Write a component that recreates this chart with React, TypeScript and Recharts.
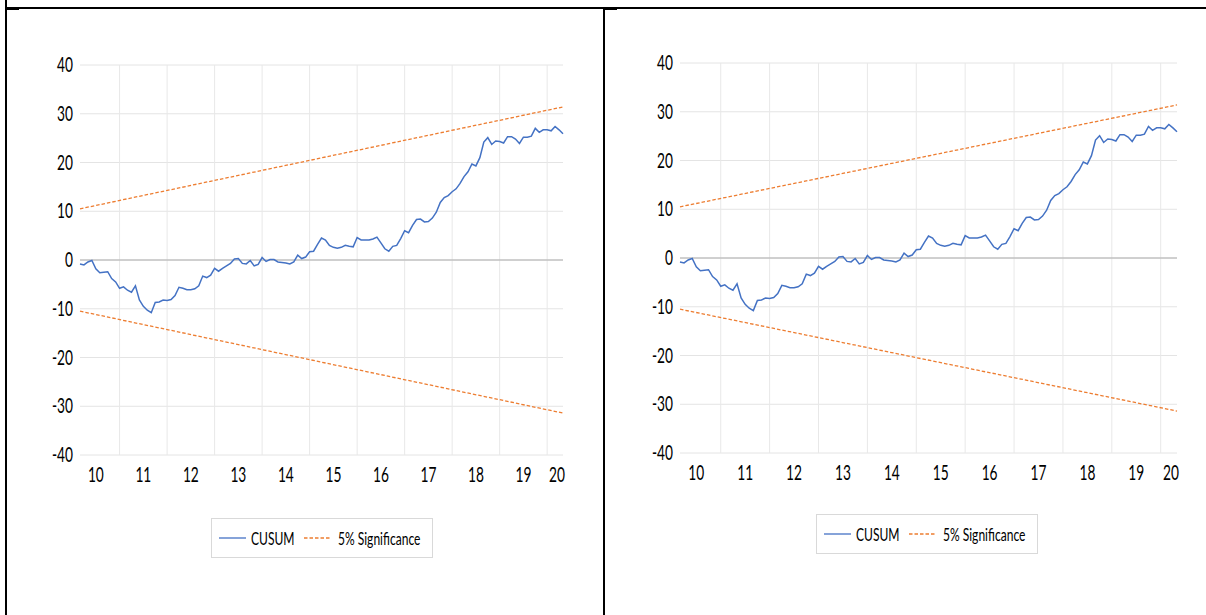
import React from "react";
import {
  LineChart,
  Line,
  XAxis,
  YAxis,
  CartesianGrid,
  ReferenceLine,
  Legend,
} from "recharts";

// CUSUM, one value per month from Mar 2010 (index 0) to May 2020 (index 122)
const cusum = [
  -0.8, -1.0, -0.4, -0.1, -1.8, -2.6, -2.5, -2.4, -3.8, -4.5,
  -5.8, -5.5, -6.2, -6.6, -5.3, -8.2, -9.5, -10.3, -10.8, -8.7,
  -8.6, -8.2, -8.3, -8.1, -7.3, -5.6, -5.8, -6.1, -6.1, -5.9,
  -5.3, -3.3, -3.6, -3.1, -1.7, -2.3, -1.7, -1.2, -0.7, 0.2,
  0.3, -0.7, -0.8, -0.1, -1.2, -0.9, 0.5, -0.3, 0.1, 0.1,
  -0.4, -0.5, -0.6, -0.8, -0.4, 1.0, 0.3, 0.6, 1.7, 1.8,
  3.2, 4.5, 4.1, 3.0, 2.6, 2.4, 2.6, 3.0, 2.8, 2.7,
  4.6, 4.1, 4.1, 4.1, 4.3, 4.7, 3.5, 2.3, 1.8, 2.8,
  3.0, 4.4, 6.0, 5.6, 7.1, 8.3, 8.4, 7.8, 7.9, 8.6,
  9.8, 11.8, 12.8, 13.2, 14.0, 14.6, 15.7, 17.1, 18.1, 19.7,
  19.3, 21.0, 24.2, 25.1, 23.7, 24.4, 24.3, 24.0, 25.3, 25.3,
  24.8, 23.9, 25.2, 25.2, 25.4, 27.0, 26.2, 26.7, 26.7, 26.5,
  27.4, 26.7, 25.9,
];

const yearLabels = ["10", "11", "12", "13", "14", "15", "16", "17", "18", "19", "20"];
const yearLabelAt = [4, 16, 28, 40, 52, 64, 76, 88, 100, 112, 120.5];
const yearStartAt = [10, 22, 34, 46, 58, 70, 82, 94, 106, 118];
const yTicks = [-40, -30, -20, -10, 0, 10, 20, 30, 40];

const bandAt = [0, 122];
const upperBand = [10.5, 31.4];
const lowerBand = [-10.5, -31.4];

const seriesNames = ["CUSUM", "5% Significance"];

const rows = cusum.map((v, i) => ({ i, cusum: v }));
const upperRows = bandAt.map((i, k) => ({ i, v: upperBand[k] }));
const lowerRows = bandAt.map((i, k) => ({ i, v: lowerBand[k] }));

const FONT = "Lato, 'Open Sans', sans-serif";
const SQUEEZE = "scale(0.67,1)";
const BLUE = "#4472C4";
const ORANGE = "#ED7D31";
const DASH = "3.5 2";

function YTick({ x, y, payload }: any) {
  return (
    <g transform={`translate(${x},${y})`}>
      <text
        textAnchor="end"
        dy={7}
        transform={SQUEEZE}
        fontSize={20.5}
        fontFamily={FONT}
        fill="#000"
      >
        {payload.value}
      </text>
    </g>
  );
}

function XTick({ x, y, payload }: any) {
  const label = yearLabels[yearLabelAt.indexOf(payload.value)];
  return (
    <g transform={`translate(${x},${y})`}>
      <text
        textAnchor="middle"
        dy={27.5}
        transform={SQUEEZE}
        fontSize={20.5}
        fontFamily={FONT}
        fill="#000"
      >
        {label}
      </text>
    </g>
  );
}

const sampleX = [8, 93];
const textX = [40, 127];

function LegendBox({ payload }: any) {
  const items = seriesNames
    .map((n) => (payload || []).find((p: any) => p.value === n))
    .filter(Boolean);
  return (
    <svg width={222} height={40} style={{ display: "block" }}>
      <rect x={0.5} y={0.5} width={221} height={39} fill="#fff" stroke="#D9D9D9" />
      {items.map((p: any, k: number) => (
        <g key={p.value}>
          <line
            x1={sampleX[k]}
            x2={sampleX[k] + 27}
            y1={20}
            y2={20}
            stroke={p.color}
            strokeWidth={1.3}
            strokeDasharray={p.payload?.strokeDasharray}
          />
          <g transform={`translate(${textX[k]},26.5)`}>
            <text transform={SQUEEZE} fontSize={18} fontFamily={FONT} fill="#000">
              {p.value}
            </text>
          </g>
        </g>
      ))}
    </svg>
  );
}

function CusumPanel({ width, height, margin, legendLeft, legendTop }: any) {
  return (
    <LineChart width={width} height={height} data={rows} margin={margin}>
      <CartesianGrid vertical={false} stroke="#E4E4E4" />
      {yearStartAt.map((x) => (
        <ReferenceLine key={x} x={x} stroke="#E8E8E8" />
      ))}
      <ReferenceLine y={0} stroke="#ADADAD" strokeWidth={1.2} />
      <XAxis
        type="number"
        dataKey="i"
        domain={[0, 122]}
        ticks={yearLabelAt}
        interval={0}
        tick={<XTick />}
        tickLine={false}
        axisLine={false}
        tickSize={0}
        tickMargin={0}
        height={30}
      />
      <YAxis
        domain={[-40, 40]}
        ticks={yTicks}
        interval={0}
        tick={<YTick />}
        tickLine={false}
        axisLine={false}
        tickSize={7}
        tickMargin={0}
        width={80}
      />
      <Line
        data={rows}
        dataKey="cusum"
        name={seriesNames[0]}
        stroke={BLUE}
        strokeWidth={1.5}
        dot={false}
        isAnimationActive={false}
      />
      <Line
        data={upperRows}
        dataKey="v"
        name={seriesNames[1]}
        stroke={ORANGE}
        strokeWidth={1.3}
        strokeDasharray={DASH}
        dot={false}
        isAnimationActive={false}
      />
      <Line
        data={lowerRows}
        dataKey="v"
        name="lower"
        legendType="none"
        stroke={ORANGE}
        strokeWidth={1.3}
        strokeDasharray={DASH}
        dot={false}
        isAnimationActive={false}
      />
      <Legend
        layout="vertical"
        align="center"
        verticalAlign="middle"
        content={<LegendBox />}
        wrapperStyle={{ left: legendLeft, top: legendTop, width: 222, height: 40 }}
      />
    </LineChart>
  );
}

export default function App() {
  return (
    <div
      style={{
        position: "absolute",
        left: 0,
        top: 0,
        width: 1206,
        height: 615,
        background: "#fff",
        overflow: "hidden",
      }}
    >
      <div style={{ position: "absolute", left: 0, top: 0 }}>
        <CusumPanel
          width={604}
          height={615}
          margin={{ top: 65, right: 41, bottom: 130, left: 0 }}
          legendLeft={211}
          legendTop={518}
        />
      </div>
      <div style={{ position: "absolute", left: 600, top: 0 }}>
        <CusumPanel
          width={606}
          height={615}
          margin={{ top: 63, right: 29, bottom: 132, left: 0 }}
          legendLeft={216}
          legendTop={514}
        />
      </div>
      {/* table borders */}
      <div style={{ position: "absolute", left: 5, top: 7, width: 1201, height: 2, background: "#000" }} />
      <div style={{ position: "absolute", left: 5, top: 0, width: 2, height: 615, background: "#000" }} />
      <div style={{ position: "absolute", left: 603, top: 7, width: 2, height: 608, background: "#000" }} />
      <div style={{ position: "absolute", left: 6, top: 8, width: 13, height: 2, background: "#000" }} />
      <div style={{ position: "absolute", left: 604, top: 8, width: 13, height: 2, background: "#000" }} />
    </div>
  );
}
